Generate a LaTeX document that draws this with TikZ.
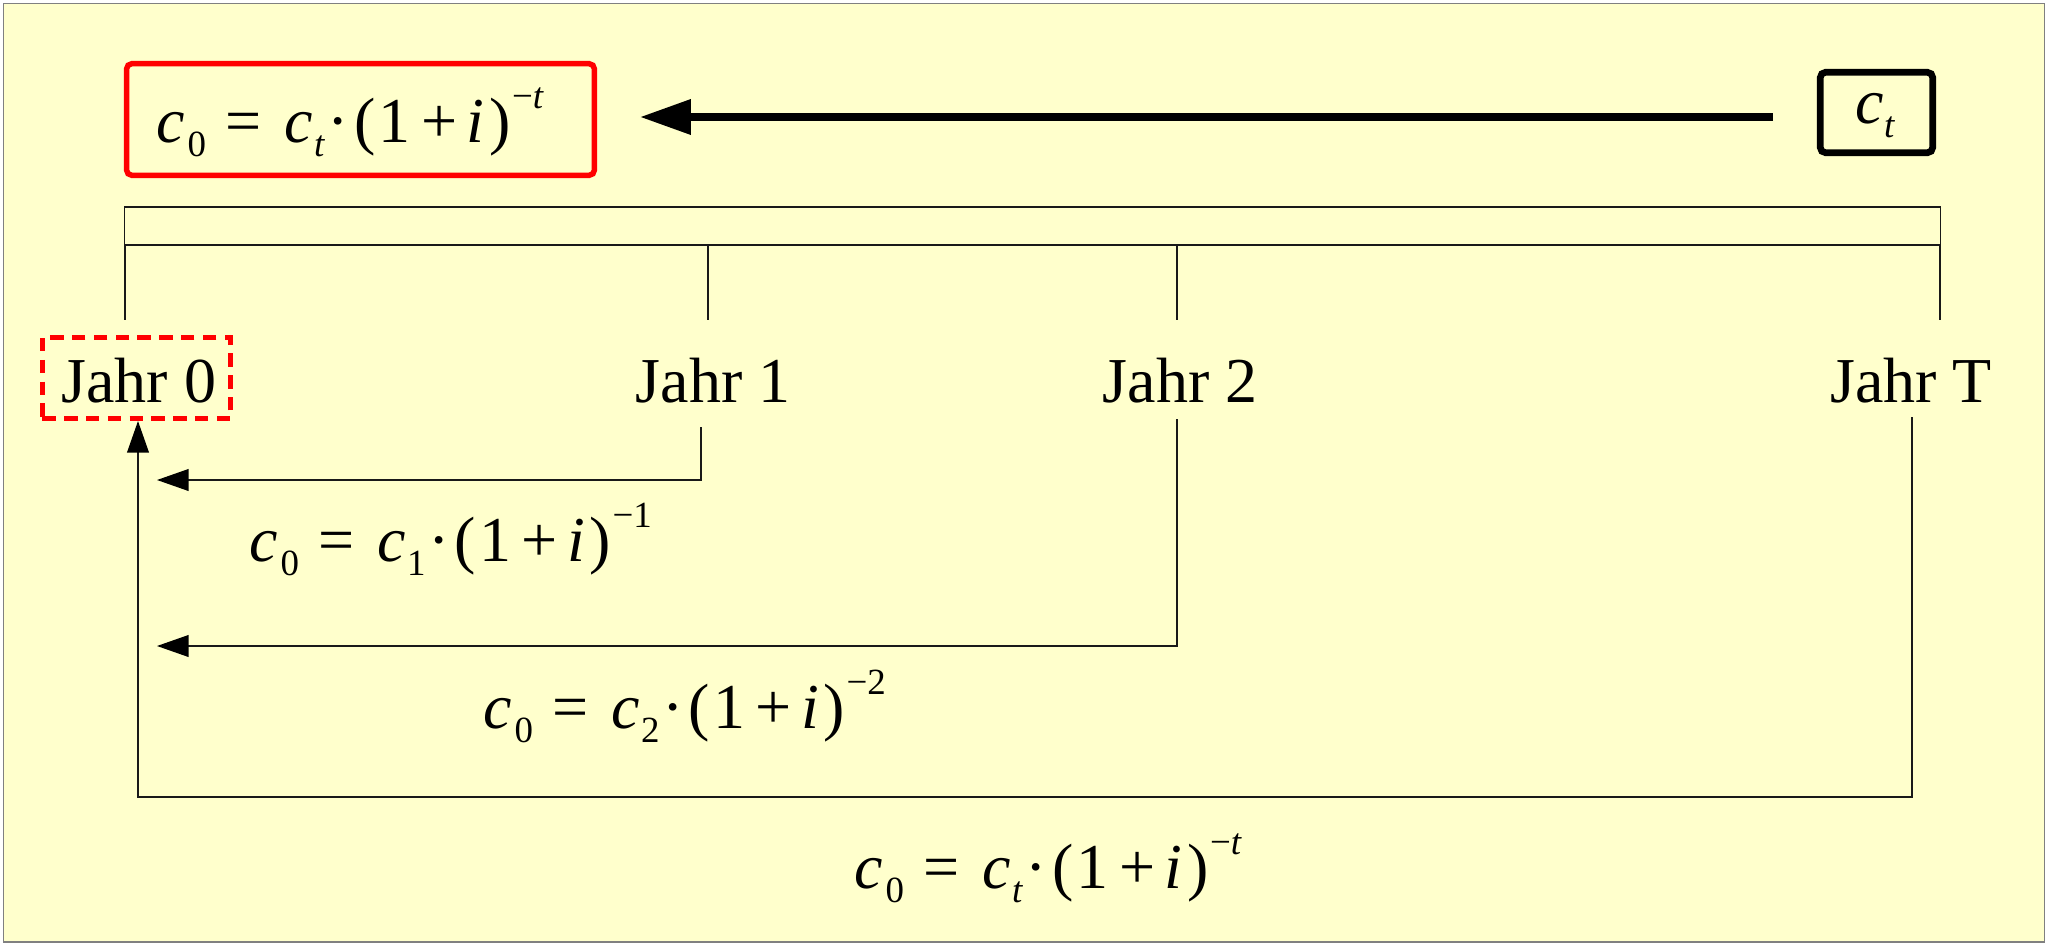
\documentclass[tikz,border=0pt]{standalone}
\usepackage{fontspec}
\setmainfont{Liberation Serif}
\usepackage{graphicx}
\usetikzlibrary{arrows.meta}
\definecolor{bgyellow}{HTML}{FFFFCC}
\definecolor{framegray}{HTML}{808080}
\newcommand{\fsub}[1]{\raisebox{-0.23em}{\fontsize{10.5pt}{10.5pt}\selectfont #1}}
\newcommand{\fsup}[1]{\raisebox{0.52em}{\fontsize{10.5pt}{10.5pt}\selectfont #1}}
\newcommand{\pv}[2]{\textit{c}\hspace{0.04em}\fsub{0}\hspace{0.3em}=\hspace{0.36em}\textit{c}\hspace{0.02em}\fsub{#1}\hspace{0.04em}·\hspace{0.08em}(\hspace{0.05em}1\hspace{0.17em}+\hspace{0.14em}\textit{i}\hspace{0.08em})\hspace{0.02em}\fsup{−#2}}
\tikzset{
  lbl/.style={inner sep=0pt, anchor=base, font=\fontsize{18.2pt}{22pt}\selectfont},
  fml/.style={inner sep=0pt, anchor=base west, font=\fontsize{18.2pt}{22pt}\selectfont},
  redbox/.style={draw=red, line width=1.55pt, rounded corners=1.5pt, inner sep=0pt},
  blkbox/.style={draw=black, line width=1.9pt, rounded corners=1.5pt, inner sep=0pt},
  dashbox/.style={draw=red, line width=1.5pt, dash pattern=on 3.8pt off 2.4pt, inner sep=0pt},
  thinline/.style={draw=black!90, line width=0.4pt},
  thinarrow/.style={thinline, -{Triangle[length=9pt,width=6.2pt,color=black]}},
  thickarrow/.style={draw=black, line width=2.2pt, -{Triangle[length=14.5pt,width=9.6pt]}},
}
\begin{document}
\begin{tikzpicture}[x=0.01cm, y=-0.01cm]
\useasboundingbox (0,0) rectangle (2047,945);
\fill[white] (0,0) rectangle (2047,945);
\draw[framegray, fill=bgyellow, line width=0.45pt] (3.5,3.5) rectangle (2044.5,942);

% top boxes
\node[redbox, minimum width=4.676cm, minimum height=1.116cm] (rb) at (360.5,119.5) {};
\node[fml] (f0) at (156,142) {\pv{\textit{t}}{\textit{t}}};
\node[blkbox, minimum width=1.124cm, minimum height=0.804cm] (ctb) at (1876.5,112.5) {};
\node[fml] (ct) at (1855,123) {\textit{c}\fsub{\textit{t}}};
\coordinate (ta) at (1773,117);
\coordinate (tb) at (640,117);
\draw[thickarrow] (ta) -- (tb);

% time bar
\node[thinline, draw, minimum width=18.15cm, minimum height=0.38cm, inner sep=0pt] (bar) at (1032.5,226) {};
\coordinate (k0) at (125,320);
\coordinate (k1) at (708,320);
\coordinate (k2) at (1177,320);
\coordinate (kT) at (1940,320);
\foreach \k in {k0,k1,k2,kT} \draw[thinline] (bar.south -| \k) -- (\k);

% year labels
\node[dashbox, minimum width=1.88cm, minimum height=0.81cm] (j0box) at (136.5,378) {};
\node[lbl] (j0) at (139,402) {Jahr 0};
\node[lbl] (j1) at (713,402) {Jahr 1};
\node[lbl] (j2) at (1180,402) {Jahr 2};
\node[lbl] (jT) at (1911,402) {Jahr T};

% discount arrows
\coordinate (s1) at (701,427);
\coordinate (e1) at (157,480);
\draw[thinarrow] (s1) |- (e1);
\coordinate (s2) at (1177,419);
\coordinate (e2) at (157,646);
\draw[thinarrow] (s2) |- (e2);
\coordinate (sT) at (1912,417);
\coordinate (cT) at (138,797);
\coordinate (eT) at (138,421);
\draw[thinarrow] (sT) |- (cT) -- (eT);

% formulas
\node[fml] (f1) at (249,561) {\pv{1}{1}};
\node[fml] (f2) at (483,728) {\pv{2}{2}};
\node[fml] (f3) at (854,888) {\pv{\textit{t}}{\textit{t}}};
\end{tikzpicture}
\end{document}
